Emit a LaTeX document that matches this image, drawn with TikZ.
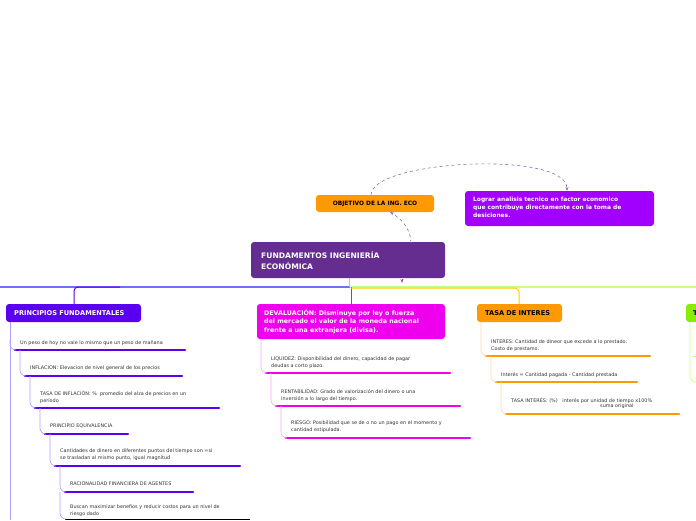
\documentclass[tikz,border=0pt]{standalone}
\usepackage{fontspec}
\setmainfont{DejaVu Sans}
\usetikzlibrary{arrows.meta}
\definecolor{cent}{HTML}{662D91}
\definecolor{pf}{HTML}{5A00F0}
\definecolor{pfl}{HTML}{B59CFF}
\definecolor{dv}{HTML}{EE00EE}
\definecolor{dvl}{HTML}{F8A8F8}
\definecolor{or}{HTML}{FF9900}
\definecolor{orl}{HTML}{FFD699}
\definecolor{pu}{HTML}{A100FF}
\definecolor{gr}{HTML}{88EE00}
\definecolor{grl}{HTML}{C8FF8A}
\definecolor{bl}{HTML}{6E6EFF}
\begin{document}
\begin{tikzpicture}[x=1pt,y=-1pt,
  box/.style={rounded corners=3pt,anchor=north west,inner sep=0pt},
  tt/.style={anchor=north west,inner sep=0pt,align=left,font=\fontsize{6.6}{8.5}\selectfont\bfseries},
  sm/.style={anchor=north west,inner sep=0pt,align=left,font=\fontsize{4.9}{7}\selectfont,text=black!80},
  ul/.style={line width=2.6pt,line cap=round},
  cn/.style={line width=0.6pt,rounded corners=6pt},
  dsh/.style={dashed,draw=cent!70,line width=0.6pt,-{Stealth[length=4pt]}}]
\useasboundingbox (0,0) rectangle (696,520);
% central
\fill[cent,rounded corners=3pt] (251,242) rectangle (445,278);
\node[tt,text=white,font=\fontsize{7.6}{11}\selectfont\bfseries] (c) at (261,251) {FUNDAMENTOS INGENIERÍA\\ECONÓMICA};
\coordinate (ctop) at (411,243);
% objective
\fill[or,rounded corners=3pt] (316,195) rectangle (434,212);
\node[font=\fontsize{5.9}{7}\selectfont\bfseries] (obj) at (375,203.5) {OBJETIVO DE LA ING. ECO};
\fill[pu,rounded corners=3pt] (465,191) rectangle (654,226);
\node[tt,text=white,font=\fontsize{5.9}{7.7}\selectfont\bfseries] (log) at (473,197) {Lograr analisis tecnico en factor economico\\que contribuye directamente con la toma de\\desiciones.};
\coordinate (objt) at (371,195);
\coordinate (objb) at (390,212);
\coordinate (logt) at (567,191);
\draw[dsh] (ctop) .. controls (411,228) and (400,218) .. (objb);
\draw[dsh] (objt) .. controls (371,160) and (567,150) .. (logt);
\draw[cent!80,-{Stealth[length=4pt]},line width=0.6pt] (402,279) -- (402,283);
% trunk lines
\draw[bl,line width=1.2pt] (0,287) -- (350,287);
\draw[grl,line width=1.2pt] (350,287) -- (696,287);
\draw[gr!70!yellow,line width=1pt] (349,278) -- (349,287);
\draw[pf,line width=1pt,rounded corners=4pt] (120,287) -- (74,287) -- (74,304);
\draw[dv,line width=1pt] (351,287) -- (351,304);
\draw[or!50!yellow,line width=1pt,rounded corners=4pt] (351,288) -- (519,288) -- (519,304);
% PRINCIPIOS
\fill[pf,rounded corners=3pt] (6,304) rectangle (141,322);
\node[tt,text=white] (pf) at (14,310) {PRINCIPIOS FUNDAMENTALES};
\draw[pfl,line width=0.7pt] (10,322) -- (10,520);
\node[sm] (p1) at (20,340) {Un peso de hoy no vale lo mismo que un peso de mañana};
\node[sm] (p2) at (30,366) {INFLACION: Elevacion de nivel general de los precios};
\node[sm] (p3) at (40,391) {TASA DE INFLACIÓN: \%\ \ promedio del alza de precios en un\\periodo};
\node[sm] (p4) at (50,424) {PRINCIPIO EQUIVALENCIA};
\node[sm] (p5) at (60,449) {Cantidades de dinero en diferentes puntos del tiempo son =si\\se trasladan al mismo punto, igual magnitud};
\node[sm] (p6) at (70,482) {RACIONALIDAD FINANCIERA DE AGENTES};
\node[sm] (p7) at (70,505) {Buscan maximizar benefios y reducir costos para un nivel de\\riesgo dado};
\draw[ul,pf] (15,350) -- (185,350);
\draw[ul,pf] (25,376) -- (182,376);
\draw[ul,pf] (35,408) -- (219,408);
\draw[ul,pf] (45,434) -- (128,434);
\draw[ul,pf] (55,466) -- (240,466);
\draw[ul,pf] (65,492) -- (193,492);
\draw[line width=1pt,black] (65,519.5) -- (250,519.5);
\draw[cn,pfl] (10,340) -- (10,350) -- (15,350);
\draw[cn,pfl] (20,350) -- (20,376) -- (25,376);
\draw[cn,pfl] (30,376) -- (30,408) -- (35,408);
\draw[cn,pfl] (40,408) -- (40,434) -- (45,434);
\draw[cn,pfl] (50,434) -- (50,466) -- (55,466);
\draw[cn,pfl] (60,466) -- (60,492) -- (65,492);
\draw[cn,pfl] (60,492) -- (60,519) -- (65,519);
% DEVALUACION
\fill[dv,rounded corners=3pt] (257,304) rectangle (445,339);
\node[tt,text=white,font=\fontsize{6.3}{8.6}\selectfont\bfseries] (dv) at (264,309) {DEVALUACIÓN: Disminuye por ley o fuerza\\del mercado el valor de la moneda nacional\\frente a una extranjera (divisa).};
\node[sm] (d1) at (271,357) {LIQUIDEZ: Disponibilidad del dinero, capacidad de pagar\\deudas a corto plazo.};
\node[sm] (d2) at (281,389) {RENTABILIDAD: Grado de valorización del dinero o una\\inversión a lo largo del tiempo.};
\node[sm] (d3) at (291,421) {RIESGO: Posibilidad que se de o no un pago en el momento y\\cantidad estipulada.};
\draw[ul,dv] (266,373) -- (450,373);
\draw[ul,dv] (276,406) -- (460,406);
\draw[ul,dv] (286,438) -- (470,438);
\draw[cn,dvl] (261,339) -- (261,373) -- (266,373);
\draw[cn,dvl] (271,373) -- (271,406) -- (276,406);
\draw[cn,dvl] (281,406) -- (281,438) -- (286,438);
% TASA DE INTERES
\fill[or,rounded corners=3pt] (477,304) rectangle (562,322);
\node[tt] (ti) at (485,310) {TASA DE INTERES};
\node[sm] (t1) at (491,340) {INTERES: Cantidad de dineor que excede a lo prestado.\\Costo de prestamo.};
\node[sm] (t2) at (501,372) {Interés = Cantidad pagada - Cantidad prestada};
\node[sm] (t3) at (511,398) {TASA INTERÉS: (\%)\ \ \ interés por unidad de tiempo x100\%};
\node[sm] (t3b) at (600,404) {suma original};
\draw[ul,or] (486,356) -- (650,356);
\draw[ul,or] (496,382) -- (637,382);
\draw[ul,or] (506,414) -- (679,414);
\draw[cn,orl] (481,322) -- (481,356) -- (486,356);
\draw[cn,orl] (491,356) -- (491,382) -- (496,382);
\draw[cn,orl] (501,382) -- (501,414) -- (506,414);
% right cut box
\fill[gr,rounded corners=3pt] (686,304) rectangle (710,322);
\node[tt] (tr) at (693,310) {T};
\draw[cn,grl] (690,322) -- (690,382) -- (696,382);
\draw[grl,line width=1pt] (693,356) -- (696,356);
\end{tikzpicture}
\end{document}
